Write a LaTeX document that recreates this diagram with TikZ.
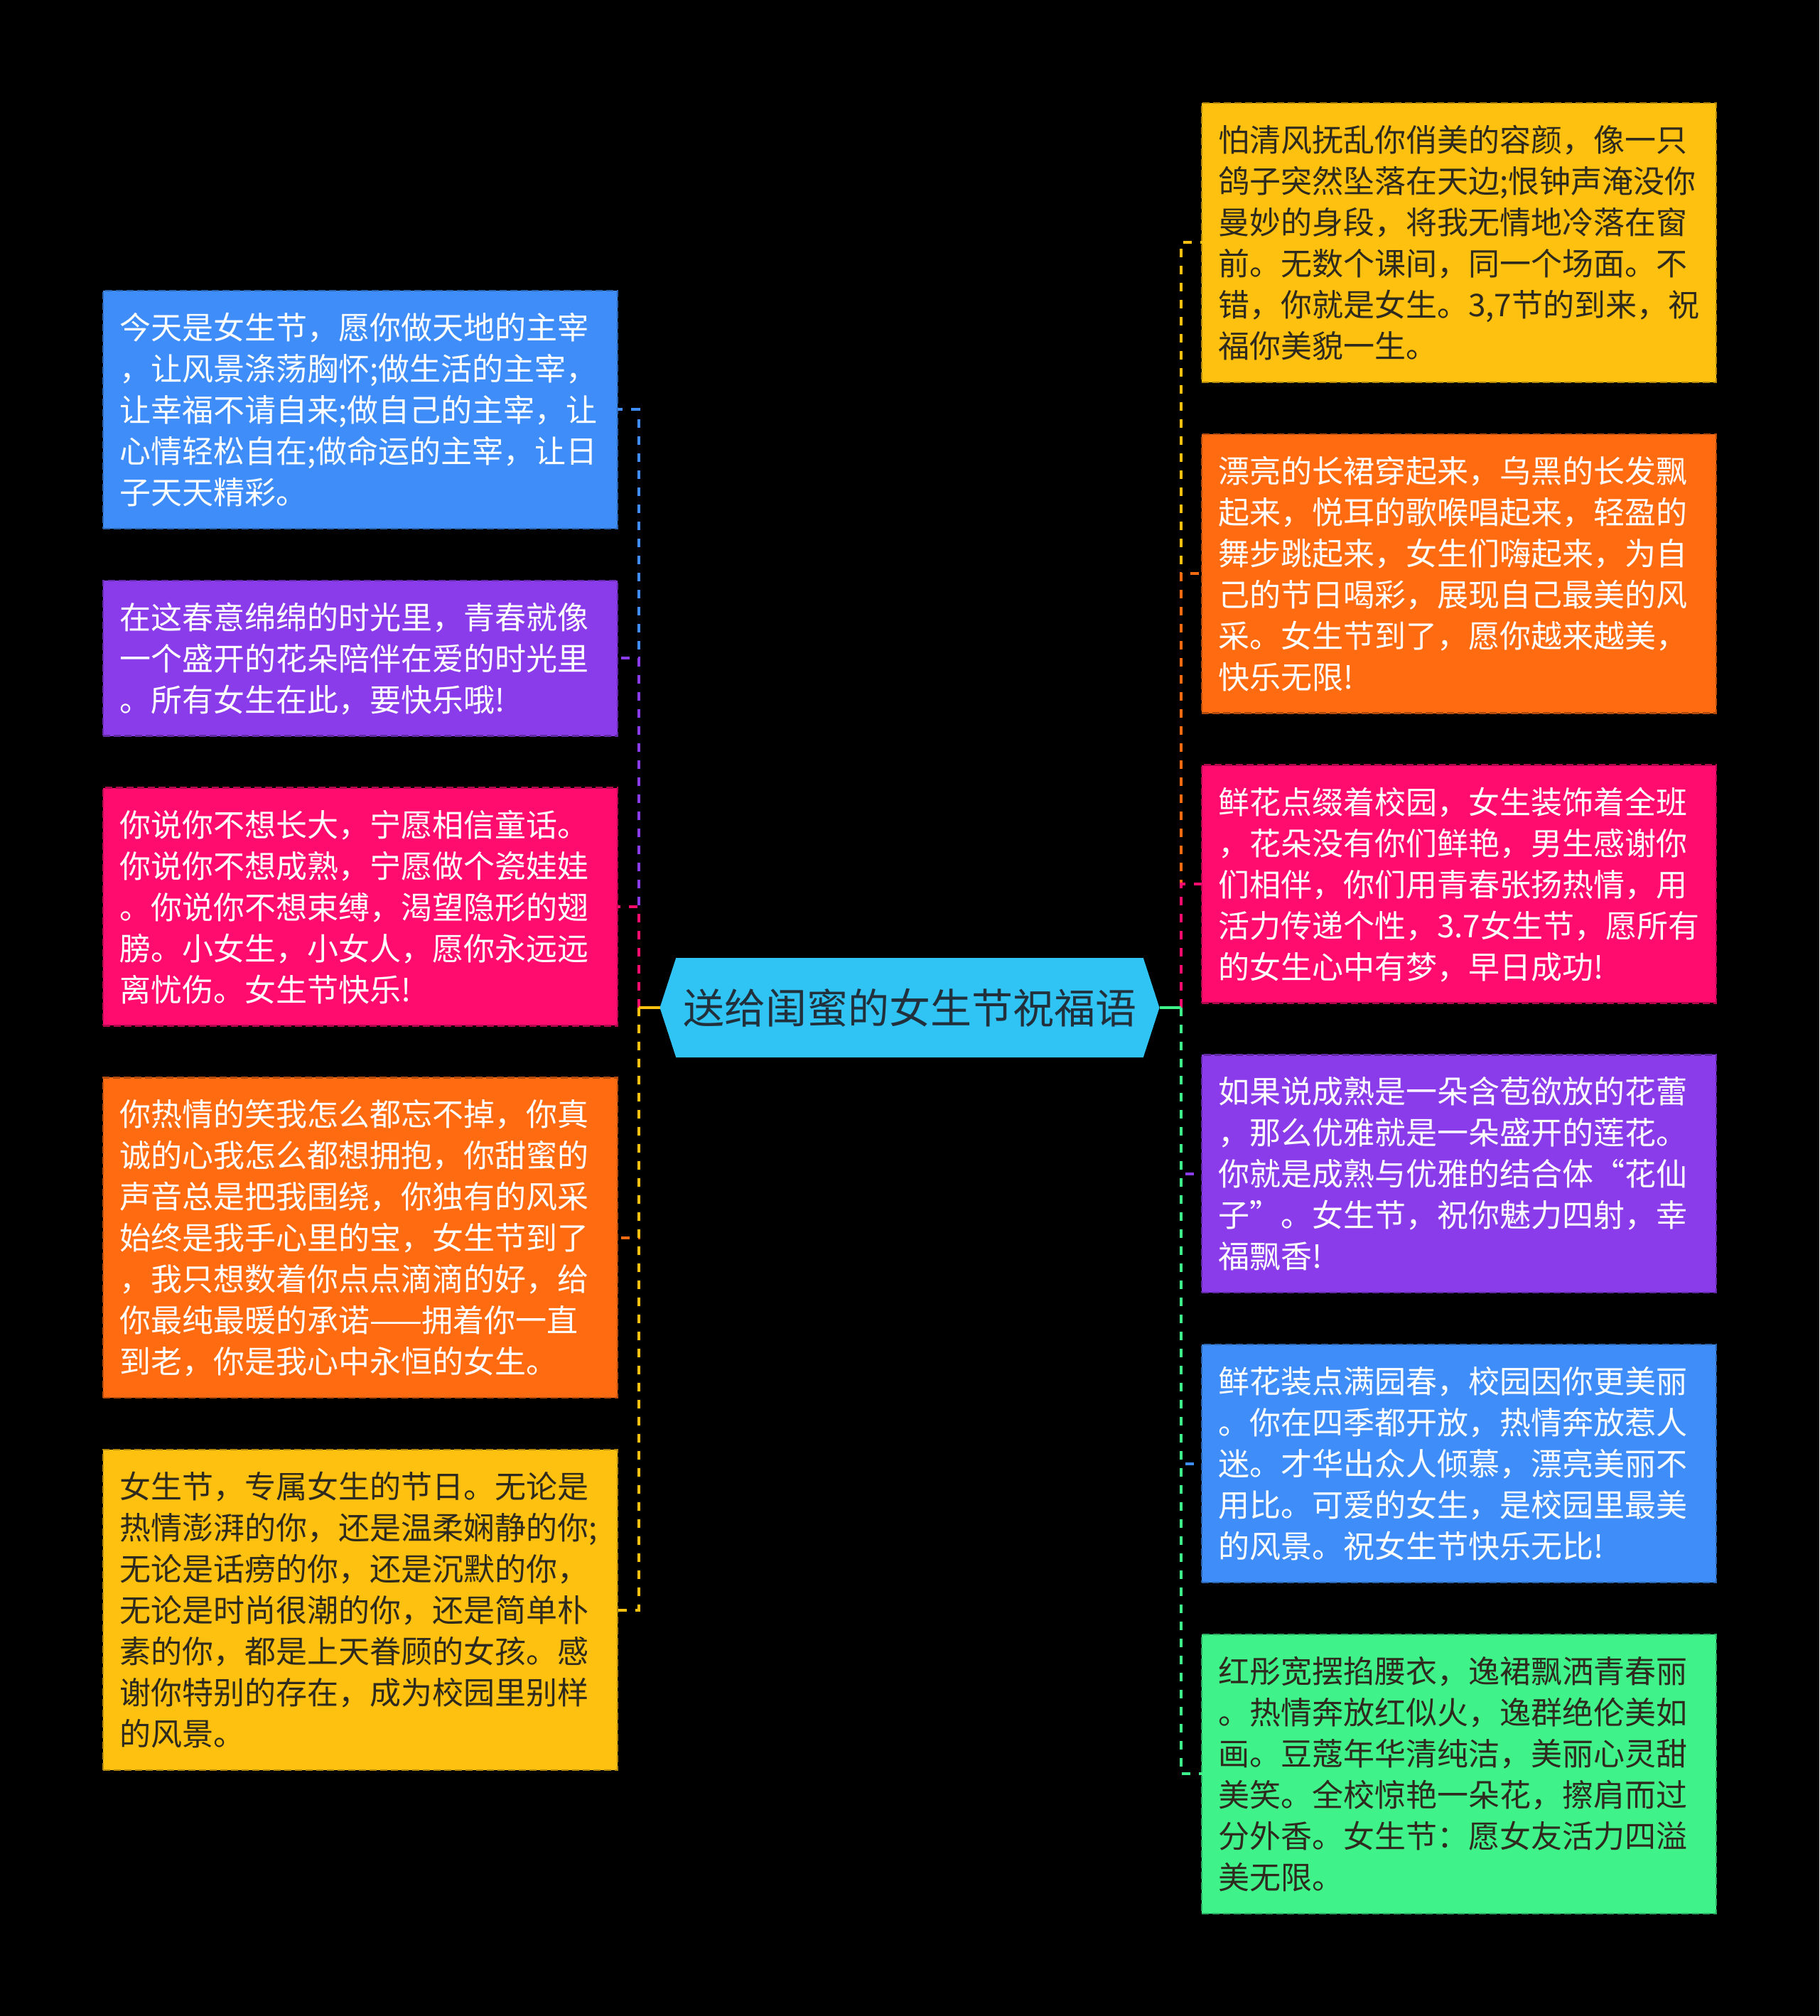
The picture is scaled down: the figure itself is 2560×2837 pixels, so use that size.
\documentclass[tikz,border=0pt]{standalone}
\usepackage{fontspec}
\setmainfont{Noto Sans CJK SC}
\usetikzlibrary{positioning, shapes.symbols}

\definecolor{rootc}{HTML}{30C4F4}
\definecolor{roottext}{HTML}{22303C}
\definecolor{bluec}{HTML}{3E8DF8}
\definecolor{purplec}{HTML}{8B3CEA}
\definecolor{pinkc}{HTML}{FF0C6E}
\definecolor{orangec}{HTML}{FF6B10}
\definecolor{yellowc}{HTML}{FFC10F}
\definecolor{greenc}{HTML}{3FF28A}
\definecolor{darkc}{HTML}{2E2A1E}
\newcommand\ls{\rule[-12pt]{0pt}{58pt}}

\begin{document}
\begin{tikzpicture}[x=1pt, y=1pt,
    box/.style={rectangle, fill=#1, draw=#1!70!black, line width=2.5pt, dash pattern=on 10pt off 5pt,
        text=white, text width=678pt, inner xsep=23pt, inner ysep=22.4pt, outer sep=0pt, align=left,
        font=\fontsize{44pt}{58pt}\selectfont, execute at begin node=\ls, execute at end node=\ls},
    link/.style={line width=4pt, draw=#1},
    dlink/.style={line width=4pt, dash pattern=on 12pt off 12pt, draw=#1},
    node distance=73pt]
                    \fill[black] (0,0) rectangle (2560,-2837);
                    \useasboundingbox (0,0) rectangle (2560,-2837);

                    \node[shape=signal, signal to=west and east, signal pointer angle=144, fill=rootc, text=roottext,
                        minimum width=703pt, minimum height=140pt, inner sep=0pt, outer sep=0pt,
                        font=\fontsize{58pt}{70pt}\selectfont] (0) at (1280,-1418) {送给闺蜜的女生节祝福语};

                    \node[box=bluec, anchor=north west] (11) at (145,-409) {今天是女生节，愿你做天地的主宰\\，让风景涤荡胸怀;做生活的主宰，\\让幸福不请自来;做自己的主宰，让\\心情轻松自在;做命运的主宰，让日\\子天天精彩。};
                    \node[box=purplec] (12) [below=of 11] {在这春意绵绵的时光里，青春就像\\一个盛开的花朵陪伴在爱的时光里\\。所有女生在此，要快乐哦!};
                    \node[box=pinkc] (13) [below=of 12] {你说你不想长大，宁愿相信童话。\\你说你不想成熟，宁愿做个瓷娃娃\\。你说你不想束缚，渴望隐形的翅\\膀。小女生，小女人，愿你永远远\\离忧伤。女生节快乐!};
                    \node[box=orangec] (14) [below=of 13] {你热情的笑我怎么都忘不掉，你真\\诚的心我怎么都想拥抱，你甜蜜的\\声音总是把我围绕，你独有的风采\\始终是我手心里的宝，女生节到了\\，我只想数着你点点滴滴的好，给\\你最纯最暖的承诺——拥着你一直\\到老，你是我心中永恒的女生。};
                    \node[box=yellowc, text=darkc] (15) [below=of 14] {女生节，专属女生的节日。无论是\\热情澎湃的你，还是温柔娴静的你;\\无论是话痨的你，还是沉默的你，\\无论是时尚很潮的你，还是简单朴\\素的你，都是上天眷顾的女孩。感\\谢你特别的存在，成为校园里别样\\的风景。};

                    \node[box=yellowc, text=darkc, anchor=north west] (21) at (1691,-145) {怕清风抚乱你俏美的容颜，像一只\\鸽子突然坠落在天边;恨钟声淹没你\\曼妙的身段，将我无情地冷落在窗\\前。无数个课间，同一个场面。不\\错，你就是女生。3,7节的到来，祝\\福你美貌一生。};
                    \node[box=orangec] (22) [below=of 21] {漂亮的长裙穿起来，乌黑的长发飘\\起来，悦耳的歌喉唱起来，轻盈的\\舞步跳起来，女生们嗨起来，为自\\己的节日喝彩，展现自己最美的风\\采。女生节到了，愿你越来越美，\\快乐无限!};
                    \node[box=pinkc] (23) [below=of 22] {鲜花点缀着校园，女生装饰着全班\\，花朵没有你们鲜艳，男生感谢你\\们相伴，你们用青春张扬热情，用\\活力传递个性，3.7女生节，愿所有\\的女生心中有梦，早日成功!};
                    \node[box=purplec] (24) [below=of 23] {如果说成熟是一朵含苞欲放的花蕾\\，那么优雅就是一朵盛开的莲花。\\你就是成熟与优雅的结合体“花仙\\子”。女生节，祝你魅力四射，幸\\福飘香!};
                    \node[box=bluec] (25) [below=of 24] {鲜花装点满园春，校园因你更美丽\\。你在四季都开放，热情奔放惹人\\迷。才华出众人倾慕，漂亮美丽不\\用比。可爱的女生，是校园里最美\\的风景。祝女生节快乐无比!};
                    \node[box=greenc, text=darkc] (26) [below=of 25] {红彤宽摆掐腰衣，逸裙飘洒青春丽\\。热情奔放红似火，逸群绝伦美如\\画。豆蔻年华清纯洁，美丽心灵甜\\美笑。全校惊艳一朵花，擦肩而过\\分外香。女生节：愿女友活力四溢\\美无限。};

                    \coordinate[left=30pt of 0.west] (lj);
                    \coordinate[right=30pt of 0.east] (rj);

                    \draw[dlink=bluec] (lj) |- (11.east);
                    \draw[dlink=purplec] (lj) |- (12.east);
                    \draw[dlink=pinkc] (lj) |- (13.east);
                    \draw[dlink=orangec] (lj) |- (14.east);
                    \draw[dlink=yellowc] (lj) |- (15.east);
                    \draw[link=yellowc] (0.west) -- (lj);

                    \draw[dlink=yellowc] (rj) |- (21.west);
                    \draw[dlink=orangec] (rj) |- (22.west);
                    \draw[dlink=pinkc] (rj) |- (23.west);
                    \draw[dlink=purplec] (rj) |- (24.west);
                    \draw[dlink=bluec] (rj) |- (25.west);
                    \draw[dlink=greenc] (rj) |- (26.west);
                    \draw[link=greenc] (0.east) -- (rj);
                \end{tikzpicture}
\end{document}
